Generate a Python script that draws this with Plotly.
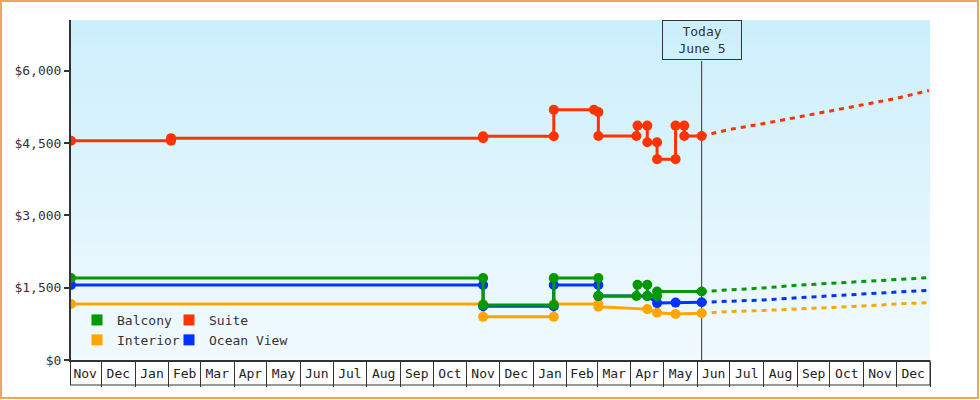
import plotly.graph_objects as go

FONT = "DejaVu Sans Mono"
TEXT = "#333333"

# ---------------- data ----------------
x_start = "2023-11-03"
x_end = "2026-01-01"
today = "2025-06-05"
today_label = "Today<br>June 5"
y_max = 7050

suite_dates = ["2023-11-03", "2024-02-03", "2024-02-03", "2024-11-16", "2024-11-16",
               "2025-01-20", "2025-01-20", "2025-02-26", "2025-03-02", "2025-03-02",
               "2025-04-06", "2025-04-07", "2025-04-16", "2025-04-16", "2025-04-25",
               "2025-04-25", "2025-05-12", "2025-05-12", "2025-05-20", "2025-05-20",
               "2025-06-05"]
suite_prices = [4545, 4545, 4600, 4600, 4640, 4640, 5190, 5190, 5140, 4645,
                4645, 4860, 4860, 4515, 4515, 4165, 4165, 4860, 4860, 4645, 4645]

balcony_dates = ["2023-11-03", "2024-11-16", "2024-11-16", "2025-01-20", "2025-01-20",
                 "2025-03-02", "2025-03-02", "2025-04-06", "2025-04-07", "2025-04-16",
                 "2025-04-16", "2025-04-25", "2025-04-25", "2025-06-05"]
balcony_prices = [1700, 1700, 1140, 1140, 1700, 1700, 1328, 1328, 1560, 1560,
                  1328, 1328, 1420, 1420]

ocean_dates = ["2023-11-03", "2024-11-16", "2024-11-16", "2025-01-20", "2025-01-20",
               "2025-03-02", "2025-03-02", "2025-04-16", "2025-04-25", "2025-05-12",
               "2025-06-05"]
ocean_prices = [1555, 1555, 1115, 1115, 1555, 1555, 1328, 1328, 1180, 1190, 1197]

interior_dates = ["2023-11-03", "2024-11-16", "2024-11-16", "2025-01-20", "2025-01-20",
                  "2025-03-02", "2025-03-02", "2025-04-16", "2025-04-25", "2025-05-12",
                  "2025-06-05"]
interior_prices = [1160, 1160, 895, 895, 1160, 1160, 1105, 1055, 980, 955, 969]

forecast_dates = ["2025-06-05", "2025-07-01", "2025-08-01", "2025-09-01",
                  "2025-10-01", "2025-11-01", "2025-12-01", "2025-12-31"]
suite_forecast = [4645, 4782, 4902, 5031, 5151, 5295, 5425, 5587]
balcony_forecast = [1420, 1452, 1494, 1550, 1591, 1629, 1670, 1707]
ocean_forecast = [1197, 1220, 1245, 1290, 1328, 1380, 1417, 1446]
interior_forecast = [969, 1006, 1027, 1058, 1079, 1120, 1162, 1189]

COLORS = {"Balcony": "#009900", "Suite": "#ff3300",
          "Interior": "#ffa500", "Ocean View": "#0033ff"}

# ---------------- layout geometry ----------------
W, H = 980, 400
ML, MR, MT, MB = 71, 50, 20, 40
PW, PH = W - ML - MR, H - MT - MB


def px_x(p):
    return (p - ML) / PW


def px_y(p):
    return (H - MB - p) / PH


fig = go.Figure()

series = [
    ("Interior", interior_dates, interior_prices, interior_forecast),
    ("Ocean View", ocean_dates, ocean_prices, ocean_forecast),
    ("Balcony", balcony_dates, balcony_prices, balcony_forecast),
    ("Suite", suite_dates, suite_prices, suite_forecast),
]
for name, d, v, fc in series:
    c = COLORS[name]
    fig.add_trace(go.Scatter(x=forecast_dates, y=fc, mode="lines", showlegend=False,
                             line=dict(color=c, width=3, dash="5px,5px"),
                             hoverinfo="skip"))
    fig.add_trace(go.Scatter(x=d, y=v, mode="lines+markers", name=name, showlegend=False,
                             line=dict(color=c, width=3),
                             marker=dict(color=c, size=10, symbol="circle")))

# legend entries: two columns, two rows
for name, lg in [("Balcony", "legend"), ("Interior", "legend"),
                 ("Suite", "legend2"), ("Ocean View", "legend2")]:
    fig.add_trace(go.Scatter(x=[None], y=[None], mode="markers", name=name,
                             legend=lg, showlegend=True,
                             marker=dict(color=COLORS[name], size=11, symbol="square")))

shapes = []
# vertical gradient background of plot area
top_c = (204, 239, 252)
bot_c = (241, 250, 254)
N = 68
for i in range(N):
    t = i / (N - 1)
    col = tuple(round(top_c[k] + (bot_c[k] - top_c[k]) * t) for k in range(3))
    shapes.append(dict(type="rect", xref="paper", yref="paper", x0=0, x1=1,
                       y0=0, y1=1 - i / N, layer="below", line=dict(width=0),
                       fillcolor="rgb(%d,%d,%d)" % col))
# today line
shapes.append(dict(type="line", xref="x", yref="paper", x0=today, x1=today,
                   y0=0, y1=px_y(61), layer="below", line=dict(color=TEXT, width=1)))
# month cell frame below the axis
cell_y = px_y(385)
shapes.append(dict(type="line", xref="paper", yref="paper", x0=px_x(70), x1=1,
                   y0=cell_y, y1=cell_y, line=dict(color=TEXT, width=1)))
shapes.append(dict(type="line", xref="paper", yref="paper", x0=px_x(70.5), x1=px_x(70.5),
                   y0=0, y1=cell_y, line=dict(color=TEXT, width=1)))
shapes.append(dict(type="line", xref="paper", yref="paper", x0=1, x1=1,
                   y0=0, y1=cell_y, line=dict(color=TEXT, width=1)))
# outer border
shapes.append(dict(type="rect", xref="paper", yref="paper", x0=px_x(1), x1=px_x(978),
                   y0=px_y(398), y1=px_y(1), line=dict(color="#e8a860", width=2)))

legend_common = dict(orientation="v", yanchor="middle", xanchor="left",
                     bgcolor="rgba(0,0,0,0)", font=dict(family=FONT, size=13, color=TEXT),
                     itemwidth=30, tracegroupgap=0)

fig.update_layout(
    width=W, height=H,
    margin=dict(l=ML, r=MR, t=MT, b=MB),
    paper_bgcolor="white",
    plot_bgcolor="#e6f6fd",
    font=dict(family=FONT, size=13, color=TEXT),
    shapes=shapes,
    annotations=[dict(x=today, xref="x", y=1, yref="paper", yanchor="top",
                      text=today_label, showarrow=False, align="center",
                      width=78, height=38, bordercolor=TEXT, borderwidth=1,
                      borderpad=0, bgcolor="rgba(0,0,0,0)",
                      font=dict(family=FONT, size=13, color=TEXT))],
    legend=dict(x=px_x(77), y=px_y(330), **legend_common),
    legend2=dict(x=px_x(169), y=px_y(330), **legend_common),
    showlegend=True,
    hovermode=False,
)

fig.update_xaxes(
    type="date", range=[x_start, x_end],
    showgrid=False, zeroline=False,
    showline=True, linewidth=2, linecolor=TEXT,
    ticks="outside", ticklen=25, tickwidth=1, tickcolor=TEXT,
    dtick="M1", tick0="2023-11-01", tickformat="%b",
    ticklabelmode="period", ticklabelstandoff=-25,
    tickfont=dict(family=FONT, size=13, color="#222222"),
)
fig.update_yaxes(
    range=[0, y_max], dtick=1500, tick0=0, tickformat="$,",
    showgrid=False, zeroline=False,
    showline=True, linewidth=2, linecolor=TEXT,
    ticks="outside", ticklen=5, tickwidth=2, tickcolor=TEXT,
    tickfont=dict(family=FONT, size=13, color=TEXT),
)

fig.write_html("out.html")
